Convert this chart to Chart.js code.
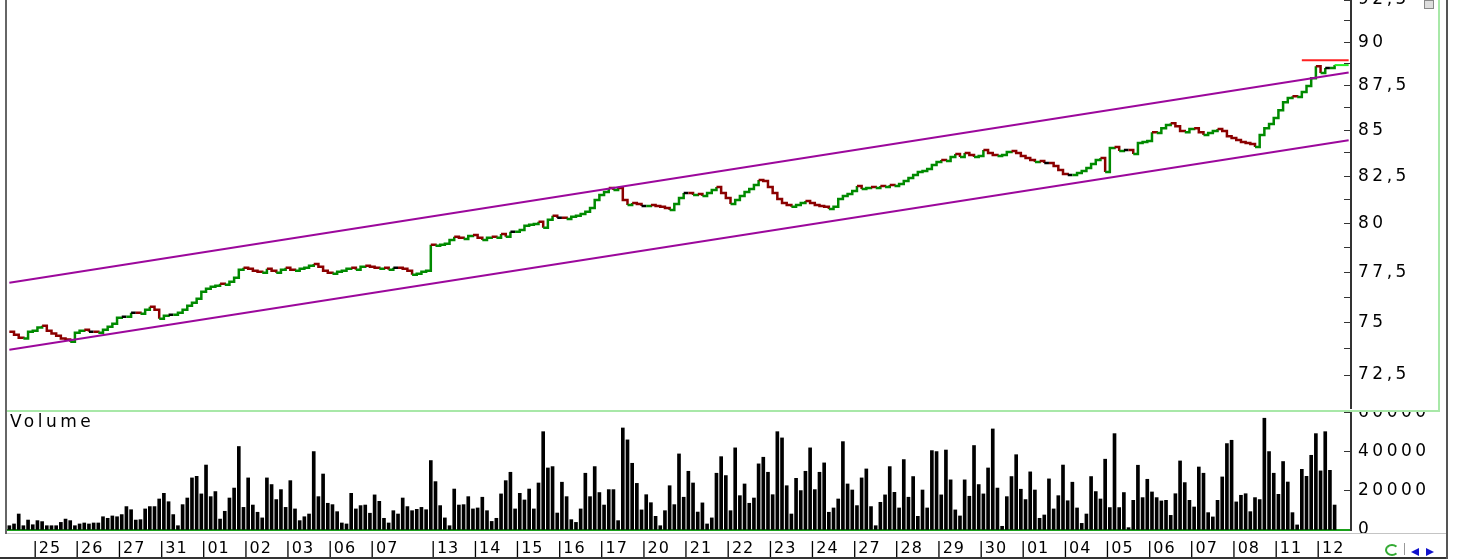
<!DOCTYPE html>
<html>
<head>
<meta charset="utf-8">
<script src="https://cdn.jsdelivr.net/npm/chart.js@4.4.0/dist/chart.umd.min.js"></script>
<style>
  html, body { margin: 0; padding: 0; background: #fff; width: 1472px; height: 560px; overflow: hidden; position: relative; font-family: "DejaVu Sans", sans-serif; }
  canvas { position: absolute; left: 0; }
  #price { top: 0; }
  #volume { top: 411px; }
  .ln { position: absolute; }
  #volTitle { position: absolute; left: 10px; top: 411px; font-size: 17px; letter-spacing: 3.5px; color: #000; }
</style>
</head>
<body>
<canvas id="price" width="1472" height="409"></canvas>
<canvas id="volume" width="1472" height="149"></canvas>

<!-- window frame -->
<div class="ln" style="left:5px;top:0;width:2px;height:534px;background:#666"></div>
<div class="ln" style="left:7px;top:410px;width:1433px;height:2px;background:#a8e8a8"></div>
<div class="ln" style="left:1438px;top:0;width:2px;height:411px;background:#a8e8a8"></div>
<div class="ln" style="left:7px;top:533px;width:1440px;height:1px;background:#c4c4c4"></div>
<div class="ln" style="left:0;top:557px;width:1448px;height:2px;background:#333"></div>
<div class="ln" style="left:1446px;top:0;width:2px;height:559px;background:#555"></div>
<div class="ln" style="left:1424px;top:0;width:8px;height:7px;background:#ddd;border:1px solid #888"></div>
<div class="ln" style="left:1385px;top:544px;width:10px;height:8px;border:2px solid #3a3;border-right-color:transparent;border-radius:50%"></div>
<div class="ln" style="left:1404px;top:543px;width:1px;height:12px;background:#999"></div>
<div class="ln" style="left:1411px;top:548px;width:0;height:0;border-top:4px solid transparent;border-bottom:4px solid transparent;border-right:8px solid #11c"></div>
<div class="ln" style="left:1426px;top:548px;width:0;height:0;border-top:4px solid transparent;border-bottom:4px solid transparent;border-left:8px solid #11c"></div>
<div id="volTitle">Volume</div>

<script>
// trading days shown on the axis ('' = day without a label)
const dayNames = ['', '25', '26', '27', '31', '01', '02', '03', '06', '07', '',
  '13', '14', '15', '16', '17', '20', '21', '22', '23', '24', '27', '28', '29', '30',
  '01', '04', '05', '06', '07', '08', '11', '12'];
const barsPerDay = [6, 9, 9, 9, 9, 9, 9, 9, 9, 9, 4,
  9, 9, 9, 9, 9, 9, 9, 9, 9, 9, 9, 9, 9, 9,
  9, 9, 9, 9, 9, 9, 9, 4];
const emptySlots = 3;

// hourly closing prices
const closes = [
  74.57, 74.43, 74.28, 74.24, 74.57, 74.62, 74.77, 74.86, 74.62, 74.48,
  74.38, 74.24, 74.19, 74.09, 74.52, 74.62, 74.67, 74.57, 74.57, 74.52,
  74.67, 74.81, 74.96, 75.25, 75.30, 75.30, 75.50, 75.50, 75.45, 75.64,
  75.79, 75.64, 75.20, 75.35, 75.40, 75.40, 75.50, 75.64, 75.84, 75.99,
  76.18, 76.53, 76.68, 76.78, 76.83, 76.93, 76.88, 77.03, 77.23, 77.63,
  77.73, 77.68, 77.58, 77.53, 77.48, 77.68, 77.58, 77.48, 77.63, 77.73,
  77.63, 77.58, 77.68, 77.73, 77.83, 77.93, 77.78, 77.58, 77.48, 77.43,
  77.53, 77.58, 77.68, 77.73, 77.63, 77.78, 77.83, 77.78, 77.73, 77.68,
  77.73, 77.63, 77.73, 77.73, 77.68, 77.58, 77.38, 77.43, 77.53, 77.58,
  78.90, 78.85, 78.90, 78.95, 79.15, 79.31, 79.26, 79.20, 79.36, 79.41,
  79.26, 79.15, 79.26, 79.31, 79.26, 79.46, 79.31, 79.57, 79.57, 79.67,
  79.88, 79.93, 79.98, 80.09, 79.78, 80.19, 80.40, 80.30, 80.30, 80.24,
  80.35, 80.40, 80.50, 80.61, 80.81, 81.23, 81.50, 81.66, 81.87, 81.76,
  81.87, 81.23, 80.97, 81.07, 81.02, 80.92, 80.92, 80.97, 80.92, 80.87,
  80.81, 80.71, 81.02, 81.34, 81.60, 81.60, 81.50, 81.55, 81.44, 81.60,
  81.76, 81.92, 81.60, 81.34, 81.02, 81.23, 81.44, 81.66, 81.81, 82.03,
  82.29, 82.24, 81.92, 81.60, 81.28, 81.07, 80.97, 80.87, 80.97, 81.07,
  81.18, 81.07, 80.97, 80.92, 80.87, 80.76, 80.87, 81.28, 81.44, 81.55,
  81.71, 81.97, 81.81, 81.87, 81.92, 81.87, 81.97, 81.92, 82.03, 81.97,
  82.08, 82.24, 82.40, 82.56, 82.72, 82.77, 82.88, 83.10, 83.26, 83.37,
  83.31, 83.53, 83.69, 83.53, 83.75, 83.64, 83.53, 83.58, 83.91, 83.75,
  83.64, 83.58, 83.64, 83.80, 83.86, 83.75, 83.58, 83.48, 83.37, 83.26,
  83.31, 83.21, 83.21, 83.04, 82.83, 82.61, 82.56, 82.56, 82.67, 82.77,
  82.94, 83.15, 83.37, 83.48, 82.72, 84.02, 84.07, 83.86, 83.91, 83.91,
  83.69, 84.29, 84.35, 84.40, 84.89, 84.84, 85.11, 85.28, 85.39, 85.22,
  84.95, 84.89, 85.06, 85.11, 84.89, 84.73, 84.84, 84.95, 85.06, 84.95,
  84.67, 84.57, 84.46, 84.35, 84.29, 84.24, 84.07, 84.73, 85.11, 85.34,
  85.67, 86.11, 86.56, 86.79, 86.90, 86.85, 87.13, 87.47, 87.92, 88.61,
  88.21, 88.50, 88.50, 88.67
];

// hourly volume
const volumes = [
  2200, 3100, 8200, 2200, 5100, 2700, 4800, 4300, 2200, 2200,
  2200, 3900, 5600, 4800, 2200, 3100, 3600, 3100, 3600, 3600,
  6800, 6000, 7200, 6800, 7900, 12000, 10400, 5100, 5300, 10800,
  12000, 12000, 15900, 18800, 14500, 7900, 2200, 13000, 16400, 26700,
  27500, 18500, 33300, 17100, 19700, 5600, 9600, 16400, 21500, 42800,
  11600, 26700, 12800, 9100, 6200, 26700, 23300, 15600, 20700, 11600,
  25300, 10800, 4800, 6800, 8200, 40200, 17100, 28700, 13700, 13000,
  9400, 3600, 3100, 18800, 10800, 12500, 12800, 8600, 18000, 14700,
  6000, 3600, 9900, 8200, 16400, 12000, 9900, 10600, 11600, 10400,
  35600, 24800, 12500, 6200, 2200, 21000, 12800, 13000, 17100, 10800,
  11300, 16800, 9900, 4400, 6000, 18500, 25300, 29600, 10800, 18800,
  15400, 21000, 10800, 24100, 50400, 31800, 32500, 8700, 24500, 17100,
  5300, 3900, 10800, 29100, 17100, 32500, 19200, 12800, 20700, 20700,
  4800, 52300, 46200, 34200, 23900, 10300, 18100, 14000, 7000, 2200,
  9900, 22700, 13000, 39000, 16800, 30100, 24100, 9200, 13900, 3100,
  6200, 29100, 37600, 27900, 9900, 42100, 17600, 23600, 13700, 16400,
  33900, 37300, 29600, 18100, 50400, 47200, 22700, 8200, 26500, 20200,
  30100, 42100, 20700, 29600, 34400, 9100, 11300, 15900, 45300, 23600,
  20500, 12500, 26700, 31300, 12000, 2200, 14200, 18000, 32500, 19300,
  11300, 36100, 16800, 27400, 7000, 20500, 11300, 40700, 40200, 18000,
  41000, 25700, 10300, 7200, 25700, 17300, 43300, 23300, 18500, 31800,
  51800, 21500, 1900, 17100, 27400, 38600, 20900, 15600, 29800, 20500,
  6000, 7700, 26200, 10800, 17600, 33300, 15000, 24500, 11300, 3400,
  8200, 27400, 19700, 15900, 36300, 11500, 49400, 11500, 19200, 1200,
  15200, 33200, 16600, 26000, 19500, 16600, 14900, 15200, 7500, 18600,
  35400, 24300, 15200, 11800, 32300, 29100, 8900, 6700, 15200, 27200,
  44300, 46000, 14400, 17800, 18600, 9400, 16600, 15600, 57300, 40200,
  29100, 18300, 35100, 24600, 8900, 2600, 31100, 27500, 38300, 49400,
  30300, 50400, 30600, 12800
];

// price channel (value at first and last slot) and markers
const channelUpper = [76.98, 88.25];
const channelLower = [73.70, 84.44];
const periodHigh = 88.95;
const periodHighBar = 276;

// axis ticks
const priceTicks = [72.5, 73.75, 75, 76.25, 77.5, 78.75, 80, 81.25, 82.5, 83.75, 85, 86.25, 87.5, 88.75, 90, 91.25, 92.5];
const volumeTicks = [0, 10000, 20000, 30000, 40000, 50000, 60000];

const UP = '#008a00', DOWN = '#8b0000', FLAT = '#000000', CHANNEL = '#9c089c';

// category labels, one per bar: "|dd" on the first bar of each day
const labels = [];
dayNames.forEach((d, k) => {
  for (let j = 0; j < barsPerDay[k]; j++) labels.push(j === 0 && d ? '|' + d : '');
});
for (let j = 0; j < emptySlots; j++) labels.push('');
const last = labels.length - 1;

const ends = (a, b) => labels.map((_, i) => i === 0 ? a : (i === last ? b : null));
const from = (start, v) => labels.map((_, i) => (i === start || i === last) ? v : null);

Chart.defaults.font.family = '"DejaVu Sans", sans-serif';
Chart.defaults.font.size = 16;
Chart.defaults.color = '#000';

const spacing = (px) => ({
  id: 'spacing',
  beforeDraw(chart) { chart.ctx.letterSpacing = px; }
});

const fixWidth = (s) => { s.width = 121; s.paddingTop = 0; s.paddingBottom = 0; };

new Chart(document.getElementById('price'), {
  type: 'line',
  data: {
    labels: labels,
    datasets: [
      { data: ends(channelUpper[0], channelUpper[1]), borderColor: CHANNEL, borderWidth: 2, pointRadius: 0, spanGaps: true },
      { data: ends(channelLower[0], channelLower[1]), borderColor: CHANNEL, borderWidth: 2, pointRadius: 0, spanGaps: true },
      { data: from(periodHighBar, periodHigh), borderColor: '#ff2020', borderWidth: 2, pointRadius: 0, spanGaps: true },
      { data: from(closes.length - 1, closes[closes.length - 1]), borderColor: '#22ee22', borderWidth: 2, pointRadius: 0, spanGaps: true },
      {
        data: closes,
        stepped: true,
        borderWidth: 2.5,
        pointRadius: 0,
        borderColor: UP,
        segment: {
          borderColor: c => c.p1.parsed.y > c.p0.parsed.y ? UP : (c.p1.parsed.y < c.p0.parsed.y ? DOWN : FLAT)
        }
      }
    ]
  },
  options: {
    responsive: false,
    animation: false,
    events: [],
    layout: { padding: { left: 7, right: 0, top: 0, bottom: 0 } },
    plugins: { legend: { display: false }, tooltip: { enabled: false } },
    scales: {
      x: { type: 'category', offset: true, display: false },
      y: {
        type: 'logarithmic',
        position: 'right',
        min: 70.92,
        max: 92.5,
        afterBuildTicks: s => { s.ticks = priceTicks.map(v => ({ value: v })); },
        afterFit: fixWidth,
        grid: { drawOnChartArea: false, tickLength: -7, tickColor: '#333' },
        border: { color: '#333', width: 2 },
        ticks: {
          padding: 14,
          font: { size: 17 },
          callback: v => (v * 2) % 5 === 0 ? String(v).replace('.', ',') : ''
        }
      }
    }
  },
  plugins: [spacing('3.5px')]
});

new Chart(document.getElementById('volume'), {
  type: 'bar',
  data: {
    labels: labels,
    datasets: [{ data: volumes, backgroundColor: '#000', barThickness: 3 }]
  },
  options: {
    responsive: false,
    animation: false,
    events: [],
    layout: { padding: { left: 7, right: 0, top: 0, bottom: 0 } },
    plugins: { legend: { display: false }, tooltip: { enabled: false } },
    scales: {
      x: {
        offset: true,
        grid: { display: false, drawTicks: false },
        border: { display: true, color: '#1aa01a', width: 2 },
        afterFit: s => { s.height = 30; s.paddingLeft = 0; s.paddingRight = 0; },
        ticks: { autoSkip: false, maxRotation: 0, align: 'start', padding: 9, labelOffset: -5, z: 1 }
      },
      y: {
        position: 'right',
        min: 0,
        max: 61000,
        afterBuildTicks: s => { s.ticks = volumeTicks.map(v => ({ value: v })); },
        afterFit: fixWidth,
        grid: { drawOnChartArea: false, tickLength: -7, tickColor: '#333' },
        border: { color: '#333', width: 2 },
        ticks: {
          padding: 14,
          font: { size: 17 },
          callback: v => v % 20000 === 0 ? String(v) : ''
        }
      }
    }
  },
  plugins: [spacing('3.5px'), {
    id: 'xSpacing',
    afterDatasetsDraw(chart) { chart.ctx.letterSpacing = '1px'; }
  }]
});
</script>
</body>
</html>
